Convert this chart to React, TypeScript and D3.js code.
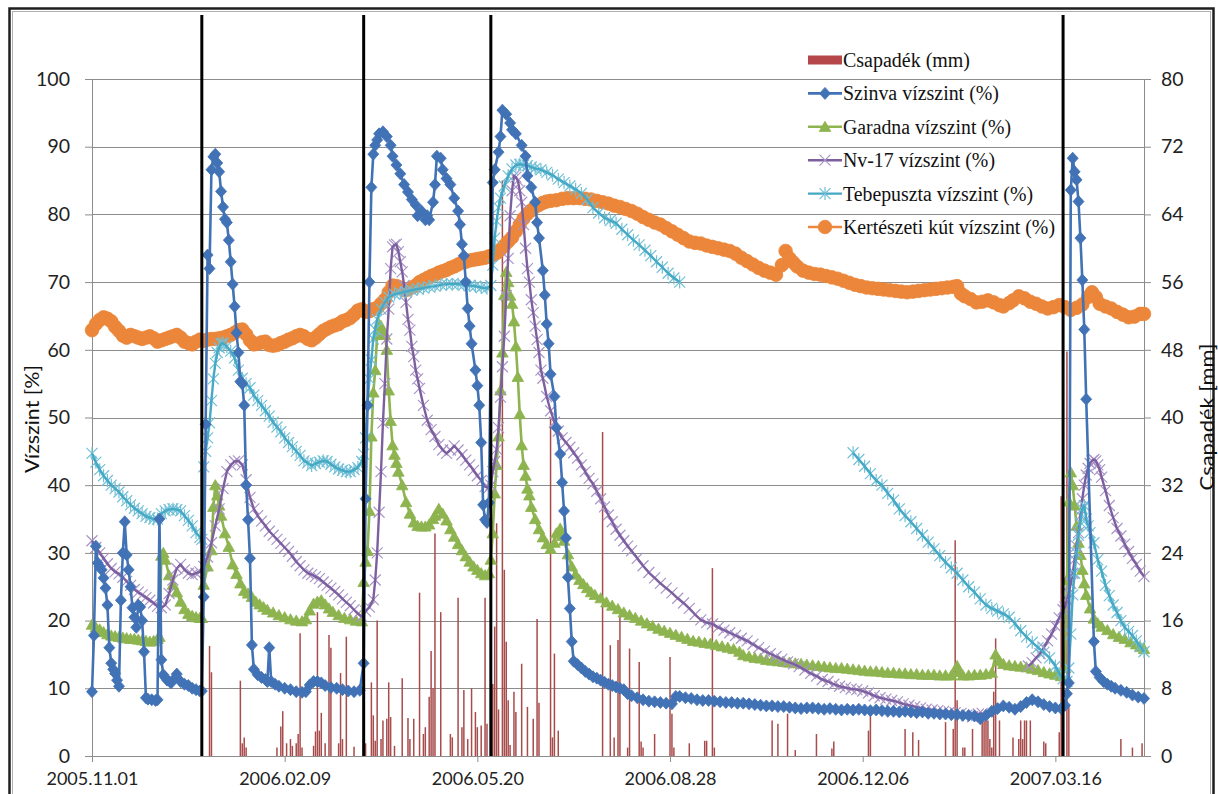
import { useEffect, useRef } from "react";
import * as d3 from "d3";

type Pt = [number, number | null];

// day offsets from 2005.11.01
const START = new Date(Date.UTC(2005, 10, 1));
const END_DAY = 546;

const xTickDays = [0, 100, 200, 300, 400, 500];
const leftTicks = [0, 10, 20, 30, 40, 50, 60, 70, 80, 90, 100];
const rightTicks = [0, 8, 16, 24, 32, 40, 48, 56, 64, 72, 80];
const eventDays = [57, 141, 207, 504];

const csapadek: [number, number][] = [
  [61, 13], [62, 9.9], [77, 8.9], [78, 1.5], [79, 2.2], [80, 1], [96, 1], [98, 3.5], [99, 5.3], [101, 1.5],
  [103, 2], [104, 1.2], [106, 1.5], [107, 2.6], [108, 14.5], [109, 1], [115, 1.2], [116, 2.9], [117, 17], [118, 3],
  [119, 5.1], [121, 1.5], [123, 14.3], [124, 12.8], [128, 1.5], [129, 9.8], [130, 2], [132, 14.1], [136, 1.1], [142, 1.5],
  [145, 8.7], [146, 4.8], [147, 1.8], [148, 16], [150, 2], [151, 4.2], [153, 4.4], [154, 8.7], [155, 4.6], [157, 1.2],
  [161, 9.2], [164, 4.5], [165, 2], [167, 4.4], [170, 19.3], [172, 2.6], [173, 3.4], [175, 7], [176, 12.4], [177, 8],
  [178, 26.3], [181, 17], [186, 2.6], [187, 2.2], [190, 18.7], [192, 3.4], [193, 7.8], [195, 2], [197, 8], [199, 5.2],
  [200, 3.4], [202, 3.6], [204, 18.7], [205, 3.8], [208, 8.5], [209, 15.3], [210, 27.5], [211, 5.5], [213, 68], [214, 22],
  [215, 13.5], [216, 6.6], [217, 1.3], [219, 7.6], [220, 5.2], [223, 10.9], [226, 5.8], [229, 4.4], [231, 16.2], [232, 6.3],
  [238, 40], [239, 2.2], [240, 12.1], [242, 3], [265, 38.3], [269, 13.1], [271, 2.2], [273, 13.7], [274, 16.6], [278, 1],
  [279, 12.7], [284, 11.1], [285, 1.7], [286, 1], [292, 2.6], [300, 11.7], [301, 5], [302, 1], [310, 1.5], [318, 1.8],
  [319, 1.8], [322, 22.2], [323, 1], [353, 4.2], [356, 3.8], [361, 5], [365, 0.7], [376, 2.6], [384, 0.9], [385, 1.7],
  [403, 3], [404, 4.8], [422, 3.2], [426, 2.8], [429, 1.9], [443, 4], [447, 3.2], [448, 25.5], [449, 6.6], [452, 1],
  [453, 1], [457, 3.2], [462, 5], [463, 4.2], [464, 5], [465, 4.2], [466, 2], [467, 1], [468, 7.6], [469, 13.9],
  [471, 4.2], [478, 2.2], [481, 2], [482, 4.2], [483, 2], [484, 4.2], [485, 4.2], [487, 4.2], [494, 1.7], [495, 1.5],
  [502, 2.8], [503, 30.7], [504, 3], [506, 47.8], [507, 6], [534, 2], [540, 1], [545, 1.5],
];

const szinva: Pt[] = [
  [0, 9.5], [1, 17.8], [2, 31], [3, 28.5], [4, 28], [5, 27.5], [6, 26.3], [7, 24.8], [8, 22.3], [9, 16],
  [10, 13.7], [11, 12.8], [12, 12.2], [13, 11.2], [14, 10.3], [15, 23], [16, 30], [17, 34.6], [18, 29.7], [19, 27.5],
  [20, 25], [21, 21.9], [22, 20.5], [23, 19], [24, 22.3], [25, 22], [26, 20], [27, 15.4], [28, 8.6], [29, 8.4],
  [31, 8.3], [33, 8.2], [34, 8.3], [35, 35], [36, 14.2], [37, 12], [38, 11.6], [39, 11.2], [41, 10.8], [43, 11.5],
  [44, 12.1], [46, 11], [48, 10.6], [50, 10.4], [52, 10], [54, 9.8], [56, 9.6], [57, 9.6], [58, 23.5], [59, 49],
  [60, 74], [61, 72], [62, 86.6], [63, 88.5], [64, 88.9], [65, 87.6], [66, 86.3], [67, 83.4], [68, 81.1], [69, 79.3],
  [70, 78.8], [71, 76.2], [72, 73], [73, 69.7], [74, 66.4], [75, 62.5], [76, 59.6], [77, 55.3], [78, 55], [79, 51.8],
  [80, 40], [81, 34.9], [82, 29.2], [83, 16.4], [84, 12.8], [86, 12], [88, 11.6], [90, 11.3], [91, 11], [92, 16],
  [93, 11], [95, 10.6], [97, 10.3], [100, 10], [103, 9.8], [106, 9.5], [109, 9.4], [111, 9.5], [113, 10.5], [115, 11],
  [117, 11], [119, 10.8], [121, 10.4], [124, 10.1], [127, 10], [130, 9.8], [133, 9.6], [136, 9.5], [139, 9.7], [141, 13.7],
  [142, 38], [143, 51.8], [144, 70], [145, 84], [146, 88.9], [147, 90.2], [148, 91], [149, 91.9], [151, 92.2], [153, 91.5],
  [155, 90.2], [156, 88.6], [158, 87.3], [160, 86], [162, 84.4], [164, 83.3], [166, 82.2], [168, 81.4], [169, 79.8], [171, 80.5],
  [173, 79.2], [174, 79.8], [175, 79.2], [177, 81.8], [178, 84.4], [179, 88.6], [181, 88.3], [182, 86.6], [184, 85.3], [186, 84.4],
  [188, 82.4], [190, 80.5], [191, 78.5], [192, 75.6], [193, 73.9], [194, 70], [195, 66.1], [196, 63.5], [197, 60.9], [199, 57],
  [200, 54.7], [201, 51.8], [202, 46.3], [203, 37.1], [204, 34.9], [205, 34.5], [206, 37.4], [208, 84.7], [209, 86.6], [211, 89.2],
  [212, 91.5], [213, 95.4], [215, 94.8], [217, 93.5], [218, 92.5], [220, 91.9], [223, 90.2], [225, 88.6], [226, 85.7], [228, 84],
  [230, 81.8], [231, 78.8], [232, 76.5], [234, 71.7], [235, 68.1], [236, 63.8], [237, 60.9], [238, 56.4], [240, 53.1], [241, 48.5],
  [243, 44.6], [244, 40.4], [245, 36.2], [246, 32.2], [247, 26.4], [248, 21.8], [249, 16.9], [250, 14], [252, 13.5], [254, 13],
  [256, 12.5], [258, 12.1], [260, 11.7], [262, 11.5], [264, 11.2], [266, 10.9], [268, 10.6], [270, 10.4], [272, 10.2], [274, 10],
  [276, 9.8], [278, 9.2], [280, 8.9], [283, 8.6], [286, 8.3], [289, 8.1], [292, 8], [295, 7.9], [298, 7.8], [301, 7.7],
  [303, 8.8], [305, 8.8], [308, 8.6], [311, 8.5], [314, 8.3], [317, 8.2], [320, 8.2], [323, 8.1], [326, 8], [329, 7.9],
  [332, 7.9], [335, 7.8], [338, 7.8], [341, 7.7], [344, 7.6], [347, 7.5], [350, 7.4], [353, 7.4], [356, 7.3], [359, 7.3],
  [362, 7.2], [365, 7.1], [368, 7], [371, 7.1], [374, 7.1], [377, 7], [380, 6.9], [383, 7], [386, 6.9], [389, 6.8],
  [392, 6.9], [395, 6.8], [398, 6.9], [401, 6.8], [404, 6.7], [407, 6.8], [410, 6.7], [413, 6.6], [416, 6.6], [419, 6.5],
  [422, 6.6], [425, 6.5], [428, 6.4], [431, 6.5], [434, 6.3], [437, 6.3], [440, 6.2], [443, 6.2], [446, 6.1], [449, 6.1],
  [452, 6], [455, 6], [458, 5.9], [461, 5.5], [464, 6], [467, 6.6], [470, 7], [473, 7.4], [476, 7.2], [479, 6.9],
  [482, 7.3], [485, 7.9], [488, 8.3], [491, 8], [494, 7.6], [497, 7.3], [500, 7.1], [503, 7], [505, 7.5], [506, 9.2],
  [507, 10.8], [508, 83.6], [509, 88.3], [510, 86.3], [511, 85.1], [512, 81.9], [513, 76.5], [514, 70.3], [515, 63], [516, 52.7],
  [520, 16.9], [521, 12.5], [523, 11.6], [525, 11], [527, 10.6], [529, 10.3], [531, 10], [534, 9.7], [537, 9.4], [540, 9],
  [543, 8.7], [546, 8.5],
];

const garadna: Pt[] = [
  [0, 19.4], [2, 19], [4, 18.7], [6, 18.3], [8, 18], [10, 17.8], [12, 17.7], [14, 17.6], [16, 17.5], [18, 17.4],
  [20, 17.3], [22, 17.3], [24, 17.2], [26, 17.1], [28, 17], [30, 16.9], [32, 17], [34, 17.3], [35, 17.6], [36, 29.6],
  [37, 30], [38, 29], [40, 26.7], [42, 25.3], [44, 24.2], [46, 22.8], [48, 21.7], [50, 21], [52, 20.7], [54, 20.5],
  [56, 20.4], [57, 20.4], [58, 25.3], [60, 28], [62, 30.4], [63, 36.8], [64, 40], [65, 38.5], [66, 37], [67, 35.5],
  [69, 32.9], [71, 30.9], [73, 28.3], [75, 26.9], [77, 25.5], [79, 24.4], [81, 24], [83, 23.5], [85, 22.8], [87, 22.4],
  [89, 22], [91, 21.6], [94, 21.2], [97, 20.8], [100, 20.5], [103, 20.2], [106, 20], [109, 19.9], [111, 20.2], [113, 21.5],
  [115, 22.5], [117, 22.8], [119, 23], [121, 22.4], [123, 21.8], [125, 21.3], [128, 20.8], [131, 20.4], [134, 20.2], [137, 20],
  [140, 19.9], [141, 25.7], [142, 28.7], [143, 30.3], [144, 36.2], [145, 47.2], [146, 53.7], [147, 57], [148, 62.2], [149, 63.8],
  [150, 63.5], [151, 62.8], [152, 62.2], [153, 60], [154, 54], [155, 49.5], [156, 45.9], [157, 44.5], [158, 43.3], [159, 42],
  [161, 40], [163, 37.5], [165, 35.8], [167, 34.5], [169, 34], [171, 33.9], [173, 33.9], [175, 34.2], [177, 35], [178, 35.5],
  [180, 36.5], [182, 35.8], [184, 34.8], [186, 33.5], [188, 32.4], [190, 31.3], [192, 30.4], [194, 29.5], [196, 28.7], [198, 28],
  [200, 27.5], [202, 27], [204, 26.7], [206, 27], [207, 29], [208, 32.9], [209, 38.8], [210, 43], [211, 47.2], [212, 54],
  [213, 59.6], [214, 68.1], [215, 71.5], [216, 70], [217, 68], [218, 66.8], [219, 64.2], [220, 60.5], [221, 56], [222, 50.5],
  [223, 45.9], [224, 43], [225, 41.4], [226, 39.5], [227, 38.5], [228, 36.8], [230, 35], [232, 33.5], [234, 32.3], [236, 31.3],
  [238, 30.6], [240, 31.5], [241, 32.9], [243, 33.6], [244, 32.5], [245, 31.8], [247, 29.8], [249, 28], [251, 26.8], [253, 26],
  [255, 25.4], [257, 24.8], [259, 24.2], [261, 23.8], [264, 23.3], [267, 22.7], [270, 22.2], [273, 21.7], [276, 21.2], [279, 20.8],
  [282, 20.4], [285, 20], [288, 19.6], [291, 19.2], [294, 18.8], [297, 18.5], [300, 18.2], [303, 17.9], [306, 17.6], [309, 17.3],
  [312, 17], [315, 16.9], [318, 16.7], [321, 16.6], [324, 16.4], [327, 16.2], [330, 16], [333, 15.8], [336, 15.4], [338, 14.9],
  [341, 14.7], [344, 14.5], [347, 14.4], [350, 14.2], [353, 14.1], [356, 14], [359, 13.9], [362, 13.8], [365, 13.7], [368, 13.6],
  [371, 13.5], [374, 13.4], [377, 13.3], [380, 13.2], [383, 13.1], [386, 13], [389, 13], [392, 12.9], [395, 12.8], [398, 12.7],
  [401, 12.6], [404, 12.5], [407, 12.5], [410, 12.4], [413, 12.3], [416, 12.3], [419, 12.2], [422, 12.2], [425, 12.1], [428, 12.1],
  [431, 12], [434, 12], [437, 12], [440, 11.9], [443, 11.9], [446, 11.9], [449, 13.3], [450, 12.4], [452, 11.9], [455, 11.9],
  [458, 12], [461, 12], [464, 12.1], [467, 12.3], [469, 15], [471, 14], [473, 13.6], [476, 13.4], [479, 13.3], [482, 13.2],
  [485, 13.1], [488, 12.9], [491, 12.7], [494, 12.4], [497, 12.2], [500, 12], [503, 11.8], [505, 13], [506, 26], [507, 37.6],
  [508, 41.9], [509, 40], [510, 37], [511, 34], [512, 31.5], [513, 29.7], [514, 27.5], [515, 25.5], [516, 23.8], [518, 21.8],
  [520, 20.3], [522, 19.6], [524, 19.1], [527, 18.6], [530, 18], [533, 17.6], [536, 17.3], [539, 16.8], [542, 16.5], [544, 16.1],
  [546, 15.8],
];

const nv17: Pt[] = [
  [0, 31.8], [2, 30.8], [4, 30], [6, 29.2], [8, 28.4], [10, 27.7], [12, 27.2], [14, 26.9], [16, 26.4], [18, 25.8],
  [20, 25.2], [22, 24.6], [24, 24.2], [26, 23.8], [28, 23.4], [30, 23], [32, 22.6], [34, 22.1], [36, 21.9], [38, 22.3],
  [40, 24], [42, 26], [44, 27.7], [46, 28.3], [48, 27.5], [50, 27], [52, 26.8], [54, 27], [56, 27.2], [58, 28],
  [60, 29.4], [62, 31.5], [64, 34], [66, 36.5], [68, 39.5], [70, 42], [72, 43], [74, 43.5], [76, 43.6], [78, 43],
  [80, 40.8], [82, 38.2], [84, 36.5], [86, 35.5], [88, 34.7], [90, 34], [92, 33.2], [94, 32.6], [96, 32], [98, 31.4],
  [100, 30.8], [102, 30.2], [104, 29.5], [106, 28.7], [108, 28.1], [110, 27.5], [112, 27], [114, 26.8], [116, 26.5], [118, 26.2],
  [120, 25.7], [122, 25.2], [124, 24.8], [126, 24.3], [128, 23.8], [130, 23.2], [132, 22.7], [134, 22.2], [136, 21.6], [138, 21],
  [140, 20.6], [142, 21.4], [144, 22], [146, 23.1], [147, 26], [148, 30], [149, 36], [150, 42], [151, 49.2], [152, 55],
  [153, 61.6], [154, 66], [155, 72], [156, 75.2], [157, 75.5], [158, 75.6], [159, 74.5], [160, 73], [161, 71.5], [162, 69.5],
  [163, 67], [164, 64.5], [165, 62.9], [166, 60.5], [167, 59], [168, 57], [169, 55.7], [170, 54.3], [172, 51.8], [174, 49.6],
  [176, 48.2], [178, 47.2], [180, 46], [182, 45.2], [184, 44.7], [186, 45.2], [188, 45.8], [190, 45.2], [192, 44.5], [194, 43.7],
  [196, 43], [198, 42.2], [200, 41.4], [202, 40.7], [204, 39.8], [206, 39.6], [207, 40], [208, 42], [209, 43.5], [210, 45.3],
  [211, 48.5], [212, 53], [213, 57.5], [214, 62], [215, 68], [216, 73.5], [217, 79.8], [218, 83.5], [219, 85.7], [220, 85.5],
  [221, 85], [222, 83.5], [223, 81.8], [224, 78.5], [225, 75], [226, 72], [227, 70], [228, 67.4], [229, 65.5], [230, 63.5],
  [231, 61.5], [232, 59.6], [233, 57], [234, 55.8], [236, 53.1], [238, 51], [240, 49.3], [242, 48], [244, 47], [246, 46.3],
  [248, 45.6], [250, 44.8], [252, 44], [254, 43], [256, 42], [258, 41], [260, 40.2], [262, 39.1], [264, 38], [266, 36.8],
  [268, 35.6], [270, 34.6], [272, 33.5], [274, 32.6], [276, 31.8], [278, 31], [280, 30.3], [283, 29.2], [286, 28.1], [289, 27.1],
  [292, 26.3], [295, 25.5], [298, 24.8], [301, 24.1], [304, 23.3], [307, 22.6], [310, 21.8], [313, 20.9], [316, 20.1], [319, 19.7],
  [322, 19.5], [325, 19], [328, 18.6], [331, 18.2], [334, 17.8], [337, 17.4], [340, 17], [343, 16.5], [346, 16], [349, 15.5],
  [352, 15.1], [355, 14.7], [358, 14.3], [361, 13.9], [364, 13.6], [367, 13.2], [370, 12.7], [373, 12.2], [376, 11.8], [379, 11.3],
  [382, 11], [385, 10.6], [388, 10.3], [391, 10.1], [394, 9.9], [397, 9.8], [400, 9.6], [403, 9.3], [406, 8.9], [409, 8.6],
  [412, 8.4], [415, 8.2], [418, 8], [421, 7.7], [424, 7.5], [427, 7.3], [430, 7.1], [433, 6.9], [436, 6.8], [439, 6.7],
  [442, 6.6], [445, 6.5], [448, 6.4], [451, 6.3], [454, 6], [457, 5.8], [460, 6.2], [462, 6.3], [474, null], [486, 13.3],
  [488, 13.8], [490, 14.5], [492, 15.1], [494, 16], [496, 17], [498, 18], [500, 19.2], [502, 20.4], [504, 21.6], [505, 22],
  [506, 23], [507, 24], [508, 25.5], [509, 27], [510, 29], [511, 31], [512, 33], [513, 35.5], [514, 38], [515, 40],
  [516, 41.5], [517, 42.5], [518, 43.2], [519, 43.6], [520, 43.8], [521, 43.6], [522, 43], [523, 42.3], [524, 41.2], [526, 39.2],
  [528, 37], [530, 35.2], [532, 33.6], [534, 32.5], [536, 31.3], [538, 30.2], [540, 29.2], [542, 28.3], [544, 27.3], [546, 26.5],
];

const tebepuszta: Pt[] = [
  [0, 44.7], [2, 43.4], [4, 42.3], [6, 41.4], [8, 40.7], [10, 40], [12, 39.5], [14, 39], [16, 38.3], [18, 37.7],
  [20, 37.1], [22, 36.6], [24, 36.2], [26, 35.8], [28, 35.4], [30, 35.2], [32, 35], [34, 35], [36, 35.8], [38, 36.2],
  [40, 36.4], [42, 36.5], [44, 36.4], [46, 36.2], [48, 35.5], [50, 34.8], [52, 34], [54, 33], [56, 32.3], [57, 32],
  [58, 42.7], [59, 45], [60, 47], [61, 49.2], [62, 52.5], [63, 55.7], [64, 58], [65, 59.6], [66, 60.3], [67, 60.9],
  [68, 61], [70, 60.5], [72, 59.8], [74, 58.8], [76, 57], [78, 55.8], [80, 55], [82, 54.4], [84, 53.3], [86, 52.5],
  [88, 51.8], [90, 51], [92, 50.2], [94, 49.3], [96, 48.6], [98, 47.9], [100, 47], [102, 46.3], [104, 45.7], [106, 45],
  [108, 44.4], [110, 43.6], [112, 43.3], [114, 42.9], [116, 43.2], [118, 43.4], [120, 43.6], [122, 43.5], [124, 43.1], [126, 42.7],
  [128, 42.4], [130, 42.2], [132, 42], [134, 42], [136, 42.3], [138, 42.6], [140, 43.5], [141, 44.6], [142, 47], [143, 52],
  [144, 55.7], [145, 58.5], [146, 61.6], [147, 63], [148, 64.5], [150, 66], [152, 67], [154, 67.8], [157, 68.2], [160, 68.4],
  [163, 68.6], [166, 68.8], [169, 69], [172, 69.1], [175, 69.3], [178, 69.4], [181, 69.6], [184, 69.7], [187, 69.7], [190, 69.7],
  [193, 69.6], [196, 69.5], [199, 69.4], [202, 69.2], [205, 69.1], [207, 69.5], [208, 72.5], [209, 76.5], [210, 79], [211, 81],
  [212, 82.4], [214, 84.2], [216, 85.7], [218, 86.7], [220, 87.3], [222, 87.4], [224, 87.3], [226, 87.2], [228, 87], [230, 86.8],
  [233, 86.6], [236, 86.2], [239, 85.8], [242, 85.2], [245, 84.7], [248, 84.2], [251, 83.7], [254, 83.1], [257, 82.2], [260, 81],
  [263, 80.2], [266, 79.5], [269, 79.1], [272, 78.7], [275, 77.8], [278, 77], [281, 76.2], [284, 75.5], [287, 74.7], [290, 73.9],
  [293, 73], [296, 72.2], [299, 71.3], [302, 70.6], [305, 70], [350, null], [395, 44.8], [398, 43.8], [401, 42.8], [404, 41.7],
  [407, 40.7], [410, 40], [413, 38.8], [416, 37.8], [419, 36.5], [422, 35.5], [425, 34.6], [428, 33.6], [431, 32.6], [434, 31.6],
  [437, 30.6], [440, 29.6], [443, 28.6], [446, 27.8], [449, 27], [452, 26], [455, 25], [458, 24.2], [461, 23.2], [464, 22.3],
  [467, 21.8], [470, 21.4], [473, 21], [476, 20.5], [479, 19.6], [482, 18.5], [485, 17.6], [488, 16.8], [491, 16], [494, 15.3],
  [497, 14.5], [500, 13.3], [502, 12.2], [504, 11.4], [506, 11], [507, 13], [508, 18], [509, 23.8], [510, 27], [511, 30],
  [512, 32.6], [513, 34.5], [514, 36.5], [515, 37], [516, 35], [517, 34], [518, 33], [520, 31.5], [522, 29], [524, 27.3],
  [526, 25.2], [528, 23.7], [530, 22.3], [532, 21.2], [534, 20], [536, 19], [538, 18.4], [540, 17.8], [542, 17], [544, 16.2],
  [546, 15.4],
];

const kerteszeti: Pt[] = [
  [0, 62.9], [2, 63.8], [4, 64.4], [6, 64.8], [8, 64.6], [10, 64.2], [12, 63.4], [14, 62.8], [16, 62.1], [18, 61.8],
  [20, 62.2], [22, 62], [24, 61.8], [26, 61.6], [28, 61.8], [30, 62], [32, 61.7], [34, 61.2], [36, 61.4], [38, 61.6],
  [40, 61.8], [42, 62], [44, 62.2], [46, 61.8], [48, 61.2], [50, 61], [52, 60.8], [54, 61.2], [56, 61.5], [58, 61.3],
  [60, 61.5], [62, 61.6], [64, 61.6], [66, 61.7], [68, 61.8], [70, 62], [72, 62.2], [74, 62.5], [76, 62.9], [78, 63],
  [80, 62.3], [82, 61.4], [84, 60.8], [86, 60.9], [88, 61.1], [90, 61.2], [92, 60.7], [94, 60.6], [96, 60.7], [98, 61],
  [100, 61.2], [102, 61.5], [104, 61.7], [106, 62], [108, 62.2], [110, 62], [112, 61.6], [114, 61.4], [116, 61.8], [118, 62.3],
  [120, 62.8], [122, 63.1], [124, 63.4], [126, 63.6], [128, 63.8], [130, 64.2], [132, 64.4], [134, 64.7], [136, 65.2], [138, 65.8],
  [140, 66], [142, 65.6], [144, 65.7], [146, 66], [148, 66.2], [150, 66.8], [152, 67.4], [154, 68.5], [156, 69.5], [158, 69.4],
  [160, 69.2], [162, 68.8], [164, 68.9], [166, 69.2], [168, 69.5], [170, 70], [172, 70.3], [174, 70.6], [176, 70.9], [178, 71.1],
  [180, 71.4], [182, 71.6], [184, 71.8], [186, 72.1], [188, 72.3], [190, 72.6], [192, 72.9], [194, 73], [196, 73.2], [198, 73.3],
  [200, 73.4], [202, 73.5], [204, 73.6], [206, 73.8], [208, 74], [210, 74.3], [212, 74.8], [214, 75.4], [216, 76], [218, 76.6],
  [220, 77.5], [222, 78.5], [224, 79.4], [226, 80.1], [228, 80.6], [230, 81.1], [232, 81.4], [234, 81.7], [236, 81.9], [238, 82],
  [241, 82.1], [244, 82.3], [247, 82.4], [250, 82.4], [253, 82.4], [256, 82.3], [259, 82.2], [262, 82], [265, 81.8], [268, 81.6],
  [271, 81.3], [274, 81.1], [277, 80.8], [280, 80.5], [283, 80.1], [286, 79.6], [289, 79.2], [292, 78.8], [295, 78.5], [298, 78],
  [301, 77.5], [304, 77], [307, 76.5], [310, 76], [313, 75.8], [316, 75.7], [319, 75.4], [322, 75.2], [325, 75], [328, 74.8],
  [331, 74.6], [334, 74.2], [337, 73.6], [340, 73.1], [343, 72.6], [346, 72.1], [349, 71.7], [352, 71.4], [355, 71.1], [358, 72.5],
  [360, 74.6], [362, 73.5], [364, 72.9], [366, 72.3], [369, 71.7], [372, 71.4], [375, 71.2], [378, 71.1], [381, 70.9], [384, 70.7],
  [387, 70.5], [390, 70.2], [393, 69.9], [396, 69.6], [399, 69.4], [402, 69.2], [405, 69.1], [408, 69], [411, 68.9], [414, 68.8],
  [417, 68.7], [420, 68.6], [423, 68.5], [426, 68.6], [429, 68.7], [432, 68.8], [435, 68.9], [438, 69], [441, 69.1], [444, 69.2],
  [447, 69.3], [449, 69.4], [451, 68.3], [453, 67.9], [456, 67.5], [459, 67], [462, 67.1], [465, 67.3], [468, 67], [471, 66.6],
  [473, 66.4], [476, 66.9], [478, 67.3], [481, 67.9], [484, 67.6], [487, 67.1], [490, 66.8], [493, 66.4], [496, 66.1], [499, 66.3],
  [502, 66.6], [505, 66.3], [508, 65.9], [511, 66.2], [514, 66.7], [517, 67.8], [519, 68.5], [521, 67.8], [523, 66.8], [526, 66.4],
  [529, 66.1], [532, 65.6], [535, 65.2], [538, 64.8], [541, 64.9], [544, 65.3], [546, 65.3],
];

const COLORS = {
  rain: "#A84B4B",
  szinva: "#4172B6",
  garadna: "#8DB44F",
  nv17: "#7D5FA0",
  tebe: "#45A9C5",
  kert: "#EB863A",
};

const markerPaths: Record<string, string> = {
  diamond: "M0,-6L5.5,0L0,6L-5.5,0Z",
  triangle: "M0,-5.6L5.8,4.6L-5.8,4.6Z",
  x: "M-5.5,-5.5L5.5,5.5M-5.5,5.5L5.5,-5.5",
  star: "M-5.5,-5.5L5.5,5.5M-5.5,5.5L5.5,-5.5M0,-6.5L0,6.5",
  circle: d3.symbol(d3.symbolCircle, Math.PI * 6.8 * 6.8)() || "",
};

type Series = {
  name: string;
  data: Pt[];
  color: string;
  marker: string;
  markerColor: string;
  lineWidth: number;
  filled: boolean;
  textLen: number;
};

const series: Record<string, Series> = {
  szinva: { name: "Szinva vízszint (%)", data: szinva, color: COLORS.szinva, marker: "diamond", markerColor: COLORS.szinva, lineWidth: 2.6, filled: true, textLen: 156 },
  garadna: { name: "Garadna vízszint (%)", data: garadna, color: COLORS.garadna, marker: "triangle", markerColor: COLORS.garadna, lineWidth: 2.6, filled: true, textLen: 168 },
  nv17: { name: "Nv-17 vízszint (%)", data: nv17, color: COLORS.nv17, marker: "x", markerColor: "#A995C7", lineWidth: 2.4, filled: false, textLen: 152 },
  tebe: { name: "Tebepuszta vízszint (%)", data: tebepuszta, color: COLORS.tebe, marker: "star", markerColor: "#72C0D6", lineWidth: 2.4, filled: false, textLen: 190 },
  kert: { name: "Kertészeti kút vízszint (%)", data: kerteszeti, color: COLORS.kert, marker: "circle", markerColor: COLORS.kert, lineWidth: 2.6, filled: true, textLen: 212 },
};

const legendOrder = ["szinva", "garadna", "nv17", "tebe", "kert"];
const drawOrder = ["kert", "garadna", "nv17", "tebe", "szinva"];

export default function App() {
  const svgRef = useRef<SVGSVGElement>(null);

  useEffect(() => {
    if (!svgRef.current) return;
    const svg = d3.select(svgRef.current);
    svg.selectAll("*").remove();

    const left = 92, right = 1144, top = 79, bottom = 756;
    const x = d3.scaleUtc().domain([START, d3.utcDay.offset(START, END_DAY)]).range([left, right]);
    const y = d3.scaleLinear().domain([0, 100]).range([bottom, top]);
    const yR = d3.scaleLinear().domain([0, 80]).range([bottom, top]);
    const dx = (d: number) => x(d3.utcDay.offset(START, d));
    const gridColor = "#8c8c8c";
    const axisFont = "Lato, 'Open Sans', sans-serif";

    svg.append("rect").attr("width", 1218).attr("height", 794).attr("fill", "#fff");

    // outer frame
    svg.append("rect").attr("x", 9.5).attr("y", 8.5).attr("width", 1204).attr("height", 800)
      .attr("fill", "none").attr("stroke", "#1e1e1e").attr("stroke-width", 2.5);
    svg.append("rect").attr("x", 12.5).attr("y", 11.5).attr("width", 1198).attr("height", 800)
      .attr("fill", "none").attr("stroke", "#b0b0b0").attr("stroke-width", 1);

    // horizontal grid
    svg.append("g").selectAll("line").data(leftTicks.slice(1)).enter().append("line")
      .attr("x1", left).attr("x2", right)
      .attr("y1", (d) => Math.round(y(d)) + 0.5).attr("y2", (d) => Math.round(y(d)) + 0.5)
      .attr("stroke", gridColor).attr("stroke-width", 1);

    // left axis
    const gl = svg.append("g").attr("transform", `translate(${left},0)`)
      .call(d3.axisLeft(y).tickValues(leftTicks).tickSize(7).tickSizeOuter(0).tickPadding(15));
    gl.select(".domain").attr("stroke", gridColor);
    gl.selectAll(".tick line").attr("stroke", gridColor);
    gl.selectAll(".tick text").attr("font-family", axisFont).attr("font-size", 19.5).attr("fill", "#222");

    // right axis
    const gr = svg.append("g").attr("transform", `translate(${right},0)`)
      .call(d3.axisRight(yR).tickValues(rightTicks).tickSize(7).tickSizeOuter(0).tickPadding(10));
    gr.select(".domain").attr("stroke", gridColor);
    gr.selectAll(".tick line").attr("stroke", gridColor);
    gr.selectAll(".tick text").attr("font-family", axisFont).attr("font-size", 19.5).attr("fill", "#222");

    // bottom axis
    const gb = svg.append("g").attr("transform", `translate(0,${bottom})`)
      .call(
        d3.axisBottom(x)
          .tickValues(xTickDays.map((d) => d3.utcDay.offset(START, d)))
          .tickFormat((d) => d3.utcFormat("%Y.%m.%d")(d as Date))
          .tickSize(6).tickSizeOuter(0).tickPadding(10)
      );
    gb.select(".domain").attr("stroke", gridColor);
    gb.selectAll(".tick line").attr("stroke", gridColor);
    gb.selectAll(".tick text").attr("font-family", axisFont).attr("font-size", 18).attr("fill", "#222");

    // axis titles
    svg.append("text").attr("transform", "translate(31,419) rotate(-90)")
      .attr("text-anchor", "middle").attr("dominant-baseline", "central")
      .attr("font-family", axisFont).attr("font-size", 19).attr("fill", "#111")
      .attr("textLength", 108).attr("lengthAdjust", "spacingAndGlyphs")
      .text("Vízszint [%]");
    svg.append("text").attr("transform", "translate(1206,417) rotate(-90)")
      .attr("text-anchor", "middle").attr("dominant-baseline", "central")
      .attr("font-family", axisFont).attr("font-size", 19).attr("fill", "#111")
      .attr("textLength", 147).attr("lengthAdjust", "spacingAndGlyphs")
      .text("Csapadék [mm]");

    // rainfall bars (secondary axis)
    svg.append("g").selectAll("line").data(csapadek).enter().append("line")
      .attr("x1", (d) => dx(d[0])).attr("x2", (d) => dx(d[0]))
      .attr("y1", bottom).attr("y2", (d) => yR(d[1]))
      .attr("stroke", COLORS.rain).attr("stroke-width", 1.5);

    // water level series
    drawOrder.forEach((key) => {
      const s = series[key];
      const g = svg.append("g");
      const line = d3.line<Pt>()
        .defined((d) => d[1] !== null)
        .x((d) => dx(d[0]))
        .y((d) => y(d[1] as number));
      const pts = s.data.filter((d) => d[1] !== null);
      if (!s.filled) {
        // pale marker band under the line
        g.selectAll("path.m").data(pts).enter().append("path")
          .attr("class", "m")
          .attr("d", markerPaths[s.marker])
          .attr("transform", (d) => `translate(${dx(d[0])},${y(d[1] as number)})`)
          .attr("fill", "none").attr("stroke", s.markerColor).attr("stroke-width", 1.2);
      }
      g.append("path").datum(s.data).attr("d", line)
        .attr("fill", "none").attr("stroke", s.color).attr("stroke-width", s.lineWidth)
        .attr("stroke-linejoin", "round");
      if (s.filled) {
        g.selectAll("path.m").data(pts).enter().append("path")
          .attr("class", "m")
          .attr("d", markerPaths[s.marker])
          .attr("transform", (d) => `translate(${dx(d[0])},${y(d[1] as number)})`)
          .attr("fill", s.markerColor).attr("stroke", s.markerColor).attr("stroke-width", 0.8);
      }
    });

    // event markers
    svg.append("g").selectAll("line").data(eventDays).enter().append("line")
      .attr("x1", (d) => dx(d)).attr("x2", (d) => dx(d))
      .attr("y1", 15).attr("y2", bottom)
      .attr("stroke", "#000").attr("stroke-width", 3);

    // legend
    const lg = svg.append("g").attr("font-family", "'Liberation Serif', 'Times New Roman', serif").attr("font-size", 20).attr("fill", "#111");
    const lx0 = 808, lx1 = 842, ly0 = 60, lstep = 33.4;
    lg.append("rect").attr("x", lx0).attr("y", ly0 - 4.5).attr("width", lx1 - lx0).attr("height", 9).attr("fill", "#B5474A");
    lg.append("text").attr("x", lx1 + 1).attr("y", ly0).attr("dominant-baseline", "central")
      .attr("textLength", 127).attr("lengthAdjust", "spacingAndGlyphs").text("Csapadék (mm)");
    legendOrder.forEach((key, i) => {
      const s = series[key];
      const ly = ly0 + (i + 1) * lstep;
      lg.append("line").attr("x1", lx0).attr("x2", lx1).attr("y1", ly).attr("y2", ly)
        .attr("stroke", s.color).attr("stroke-width", s.lineWidth);
      lg.append("path").attr("d", markerPaths[s.marker])
        .attr("transform", `translate(${(lx0 + lx1) / 2},${ly})`)
        .attr("fill", s.filled ? s.markerColor : "none")
        .attr("stroke", s.markerColor).attr("stroke-width", s.filled ? 0.8 : 1.2);
      lg.append("text").attr("x", lx1 + 1).attr("y", ly).attr("dominant-baseline", "central")
        .attr("textLength", s.textLen).attr("lengthAdjust", "spacingAndGlyphs").text(s.name);
    });
  }, []);

  return (
    <svg
      ref={svgRef}
      width={1218}
      height={794}
      style={{ position: "absolute", left: 0, top: 0, display: "block" }}
    />
  );
}
